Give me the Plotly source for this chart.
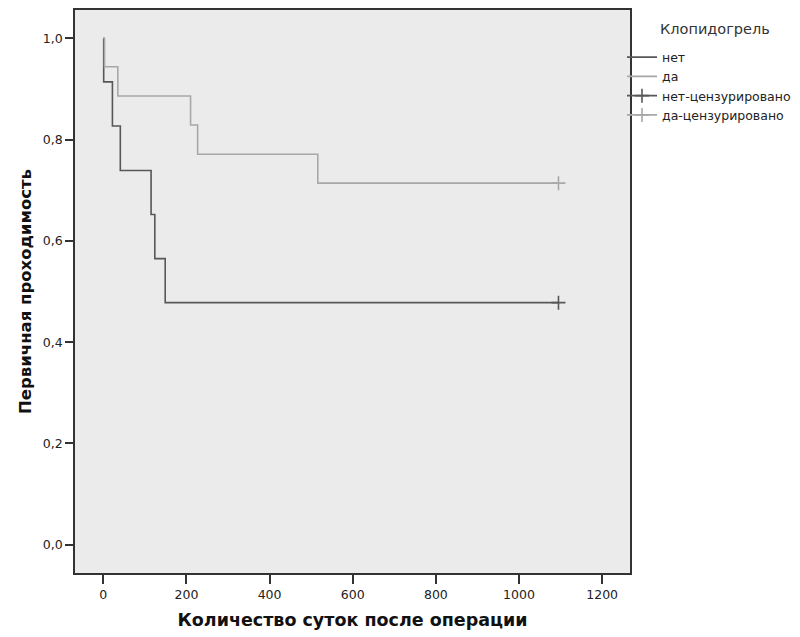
import plotly.graph_objects as go

# Kaplan-Meier data
net_t = [0, 1, 22, 41, 115, 124, 149, 1095]
net_s = [1.0, 0.914, 0.827, 0.739, 0.652, 0.565, 0.478, 0.478]
da_t = [0, 3, 35, 210, 227, 516, 1095]
da_s = [1.0, 0.944, 0.886, 0.829, 0.771, 0.714, 0.714]
net_cens_t = [1095]
net_cens_s = [0.478]
da_cens_t = [1095]
da_cens_s = [0.714]

names = ["нет", "да", "нет-цензурировано", "да-цензурировано"]
legend_title = "Клопидогрель"
x_title = "Количество суток после операции"
y_title = "Первичная проходимость"
x_ticks = [0, 200, 400, 600, 800, 1000, 1200]
y_ticks = [0.0, 0.2, 0.4, 0.6, 0.8, 1.0]

dark = "#575757"
light = "#a8a8a8"
FONT = "DejaVu Sans, Liberation Sans, Arial, sans-serif"

W, H = 800, 637
L, R, T, B = 75, 170, 10, 64
PW, PH = W - L - R, H - T - B

fig = go.Figure()
fig.add_trace(go.Scatter(x=net_t, y=net_s, mode="lines", line=dict(color=dark, width=1.6, shape="hv"), name=names[0]))
fig.add_trace(go.Scatter(x=da_t, y=da_s, mode="lines", line=dict(color=light, width=1.6, shape="hv"), name=names[1]))
fig.add_trace(go.Scatter(x=net_cens_t, y=net_cens_s, mode="markers+lines",
                         marker=dict(symbol="cross-thin", size=10, line=dict(color=dark, width=1.6)),
                         line=dict(color=dark, width=1.6), name=names[2]))
fig.add_trace(go.Scatter(x=da_cens_t, y=da_cens_s, mode="markers+lines",
                         marker=dict(symbol="cross-thin", size=10, line=dict(color=light, width=1.6)),
                         line=dict(color=light, width=1.6), name=names[3]))

fig.update_layout(
    width=W, height=H,
    margin=dict(l=L, r=R, t=T, b=B, autoexpand=False),
    paper_bgcolor="white", plot_bgcolor="#ebebeb",
    separators=", ",
    font=dict(family=FONT, size=12, color="#222"),
    showlegend=True,
    legend=dict(x=1 - 8 / PW, xanchor="left", y=1 - (42.5 - T) / PH, yanchor="top", itemwidth=30,
                font=dict(size=12.5, color="#222"), tracegroupgap=0,
                bgcolor="rgba(0,0,0,0)"),
    annotations=[dict(text=legend_title, xref="paper", yref="paper",
                      x=(658 - L) / PW, y=1 - (29 - T) / PH, xanchor="left", yanchor="middle",
                      showarrow=False, font=dict(size=14.5, color="#333"))],
)

fig.update_xaxes(range=[-68, 1267], tickvals=x_ticks, ticks="outside", ticklen=9, tickwidth=1.5,
                 tickcolor="#333", showline=True, mirror=True, linecolor="#333", linewidth=1.5,
                 showgrid=False, zeroline=False, tickfont=dict(size=12.5, color="#222"),
                 title=dict(text="<b>" + x_title + "</b>", font=dict(size=17.5, color="#111"), standoff=13))
fig.update_yaxes(range=[-0.056, 1.056], tickvals=y_ticks, tickformat=".1f", ticks="outside", ticklen=8, tickwidth=1.5,
                 tickcolor="#333", showline=True, mirror=True, linecolor="#333", linewidth=1.5,
                 showgrid=False, zeroline=False, tickfont=dict(size=12.5, color="#222"),
                 title=dict(text="<b>" + y_title + "</b>", font=dict(size=16.5, color="#111"), standoff=7))

fig.write_html("out.html")
